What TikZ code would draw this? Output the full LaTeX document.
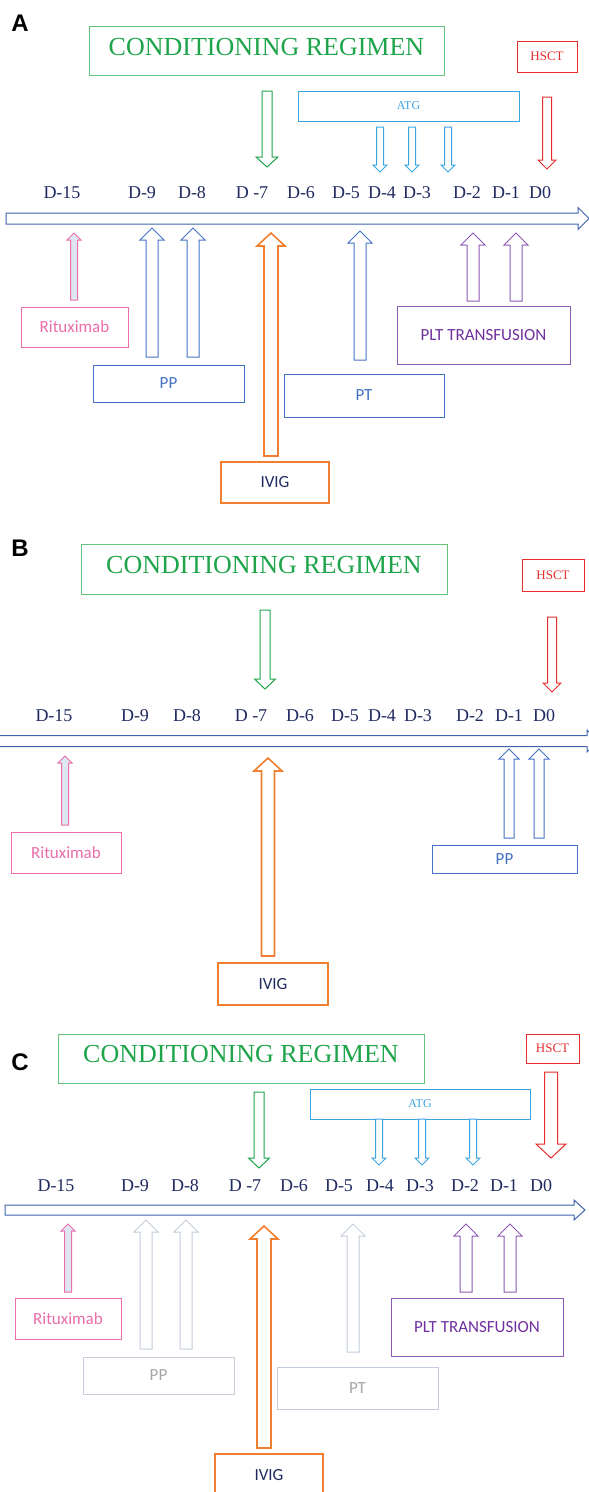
\documentclass[tikz,border=0pt]{standalone}
\usepackage{fontspec}
\setmainfont{Liberation Serif}
\newfontfamily\califont{Carlito}
\newfontfamily\panelfont{Liberation Sans}
\usepackage{xcolor}

\definecolor{navy}{RGB}{31,42,96}
\definecolor{axisblue}{RGB}{62,100,173}
\definecolor{condgreen}{RGB}{30,165,75}
\definecolor{condline}{RGB}{100,195,125}
\definecolor{hsctred}{RGB}{232,45,45}
\definecolor{atgblue}{RGB}{60,165,225}
\definecolor{ritpink}{RGB}{236,110,170}
\definecolor{ritfill}{RGB}{222,230,242}
\definecolor{ppblue}{RGB}{68,114,196}
\definecolor{ivigorange}{RGB}{240,128,48}
\definecolor{pltpurple}{RGB}{112,48,160}
\definecolor{pltline}{RGB}{140,90,180}
\definecolor{fadeline}{RGB}{196,205,220}
\definecolor{fadetext}{RGB}{166,166,166}

% block arrows: style, x, tail y, tip y, shaft half width, head half width, head length
\newcommand{\uparrowblock}[7]{\draw[#1] (#2-#5,#3) -- (#2-#5,#4+#7) -- (#2-#6,#4+#7) -- (#2,#4) -- (#2+#6,#4+#7) -- (#2+#5,#4+#7) -- (#2+#5,#3) -- cycle;}
\newcommand{\downarrowblock}[7]{\draw[#1] (#2-#5,#3) -- (#2-#5,#4-#7) -- (#2-#6,#4-#7) -- (#2,#4) -- (#2+#6,#4-#7) -- (#2+#5,#4-#7) -- (#2+#5,#3) -- cycle;}
% time line: x start, x tip, y, shaft half height, head half height, head length
\newcommand{\timeaxis}[6]{\draw[axisarr] (#1,#3-#4) -- (#2-#6,#3-#4) -- (#2-#6,#3-#5) -- (#2,#3) -- (#2-#6,#3+#5) -- (#2-#6,#3+#4) -- (#1,#3+#4) -- cycle;}

\tikzset{
  box/.style={draw, line width=1pt, inner sep=0pt, align=center},
  condbox/.style={box, draw=condline, text=condgreen, font=\fontsize{26}{26}\selectfont, text depth=8pt},
  hsctbox/.style={box, draw=hsctred, text=hsctred, font=\fontsize{13}{13}\selectfont},
  atgbox/.style={box, draw=atgblue, text=atgblue, font=\fontsize{12}{12}\selectfont},
  calbox/.style={box, font=\califont\fontsize{17}{17}\selectfont},
  ritbox/.style={calbox, draw=ritpink, text=ritpink},
  ppbox/.style={calbox, draw=ppblue, text=ppblue},
  fadebox/.style={calbox, draw=fadeline, text=fadetext},
  ivigbox/.style={calbox, draw=ivigorange, line width=2.4pt, text=navy},
  pltbox/.style={calbox, draw=pltline, text=pltpurple},
  daylbl/.style={text=navy, font=\fontsize{18}{18}\selectfont, inner sep=0pt},
  panel/.style={font=\panelfont\bfseries\fontsize{24}{24}\selectfont, inner sep=0pt},
  arr/.style={line width=1pt, fill=white, line join=miter},
  axisarr/.style={arr, draw=axisblue},
  greenarr/.style={arr, draw=condgreen},
  atgarr/.style={arr, draw=atgblue},
  redarr/.style={arr, draw=hsctred},
  ritarr/.style={arr, draw=ritpink, fill=ritfill},
  pparr/.style={arr, draw=ppblue},
  ivigarr/.style={arr, draw=ivigorange, line width=1.6pt},
  pltarr/.style={arr, draw=pltline},
  fadearr/.style={arr, draw=fadeline}
}

\begin{document}
\begin{tikzpicture}[x=1pt, y=-1pt]
\useasboundingbox (0,0) rectangle (589,1492);
\fill[white] (0,0) rectangle (589,1492);

%% ---------- A ----------
\node[panel] (panelA) at (20,23) {A};
\node[condbox, minimum width=355pt, minimum height=49pt] (condA) at (266.5,50.5) {CONDITIONING REGIMEN};
\node[hsctbox, minimum width=60pt, minimum height=31pt] (hsctA) at (547,56.5) {HSCT};
\node[atgbox, minimum width=221pt, minimum height=30pt] (atgA) at (408.5,106) {ATG};

\downarrowblock{greenarr}{267}{91}{167}{5}{11}{10}
\foreach \x in {380,412,448}
  {\downarrowblock{atgarr}{\x}{127}{172}{3.5}{7}{7}}
\downarrowblock{redarr}{547}{97}{169}{4.5}{9}{9}

\foreach \x/\d [count=\i] in {62/D-15,142/D-9,192/D-8,252/D -7,301/D-6,346/D-5,382/D-4,417/D-3,467/D-2,506/D-1,540/D0}
  \node[daylbl] (dayA\i) at (\x,193) {\d};
\timeaxis{6}{589}{218.5}{5.5}{11}{11}

\uparrowblock{ritarr}{74}{300}{233}{3.5}{7}{7}
\foreach \x in {152,193}
  {\uparrowblock{pparr}{\x}{357}{228}{6}{12}{12}}
\uparrowblock{ivigarr}{271}{456}{233}{7}{14}{13}
\uparrowblock{pparr}{360}{360}{231}{6}{12}{12}
\foreach \x in {473,516}
  {\uparrowblock{pltarr}{\x}{301}{233}{6}{12}{12}}

\node[ritbox, minimum width=107pt, minimum height=40pt] (ritA) at (74.5,327) {Rituximab};
\node[ppbox, minimum width=151pt, minimum height=37pt] (ppA) at (168.5,383.5) {PP};
\node[ivigbox, minimum width=108pt, minimum height=41pt] (ivigA) at (275,482.5) {IVIG};
\node[ppbox, minimum width=160pt, minimum height=43pt] (ptA) at (364,395.5) {PT};
\node[pltbox, minimum width=173pt, minimum height=58pt] (pltA) at (483.5,335) {PLT TRANSFUSION};

%% ---------- B ----------
\node[panel] (panelB) at (20,548) {B};
\node[condbox, minimum width=366pt, minimum height=50pt, text depth=9pt] (condB) at (264,569) {CONDITIONING REGIMEN};
\node[hsctbox, minimum width=62pt, minimum height=32pt] (hsctB) at (553,575) {HSCT};

\downarrowblock{greenarr}{265}{610}{689}{5}{10.5}{10}
\downarrowblock{redarr}{552}{617}{692}{4.5}{9}{9}

\foreach \x/\d [count=\i] in {54/D-15,135/D-9,187/D-8,251/D -7,300/D-6,345/D-5,382/D-4,418/D-3,470/D-2,509/D-1,544/D0}
  \node[daylbl] (dayB\i) at (\x,716) {\d};
\timeaxis{-5}{598}{741}{5.5}{11}{11}

\uparrowblock{ritarr}{65}{825}{756}{3.5}{7}{7}
\uparrowblock{ivigarr}{268}{956}{758}{6.5}{14}{13}
\foreach \x in {509,539}
  {\uparrowblock{pparr}{\x}{838}{749}{5}{10}{10}}

\node[ritbox, minimum width=110pt, minimum height=41pt] (ritB) at (66,852.5) {Rituximab};
\node[ivigbox, minimum width=110pt, minimum height=42pt] (ivigB) at (273,984) {IVIG};
\node[ppbox, minimum width=145pt, minimum height=28pt] (ppB) at (504.5,859) {PP};

%% ---------- C ----------
\node[panel] (panelC) at (20,1062) {C};
\node[condbox, minimum width=366pt, minimum height=49pt, text depth=9pt] (condC) at (241,1058.5) {CONDITIONING REGIMEN};
\node[hsctbox, minimum width=53pt, minimum height=29pt] (hsctC) at (552.5,1048.5) {HSCT};
\node[atgbox, minimum width=220pt, minimum height=30pt] (atgC) at (420,1104) {ATG};

\downarrowblock{greenarr}{259}{1092}{1168}{5}{10.5}{10}
\foreach \x in {379,422,473}
  {\downarrowblock{atgarr}{\x}{1119}{1165}{3.5}{7}{7}}
\downarrowblock{redarr}{551}{1072}{1158}{6.5}{15}{14}

\foreach \x/\d [count=\i] in {56/D-15,135/D-9,185/D-8,245/D -7,294/D-6,339/D-5,380/D-4,420/D-3,465/D-2,504/D-1,541/D0}
  \node[daylbl] (dayC\i) at (\x,1186) {\d};
\timeaxis{5}{585}{1210}{5}{10}{11}

\uparrowblock{ritarr}{68}{1292}{1224}{3.5}{7}{7}
\foreach \x in {146,186}
  {\uparrowblock{fadearr}{\x}{1349}{1220}{6}{12}{12}}
\uparrowblock{ivigarr}{264}{1448}{1226}{7}{14}{13}
\uparrowblock{fadearr}{353}{1352}{1224}{6}{12}{12}
\foreach \x in {466,510}
  {\uparrowblock{pltarr}{\x}{1292}{1224}{6}{12}{12}}

\node[ritbox, minimum width=106pt, minimum height=41pt] (ritC) at (68,1318.5) {Rituximab};
\node[fadebox, minimum width=151pt, minimum height=37pt] (ppC) at (158.5,1375.5) {PP};
\node[ivigbox, minimum width=108pt, minimum height=42pt] (ivigC) at (269,1475) {IVIG};
\node[fadebox, minimum width=161pt, minimum height=42pt] (ptC) at (357.5,1388) {PT};
\node[pltbox, minimum width=172pt, minimum height=58pt] (pltC) at (477,1327) {PLT TRANSFUSION};
\end{tikzpicture}
\end{document}
